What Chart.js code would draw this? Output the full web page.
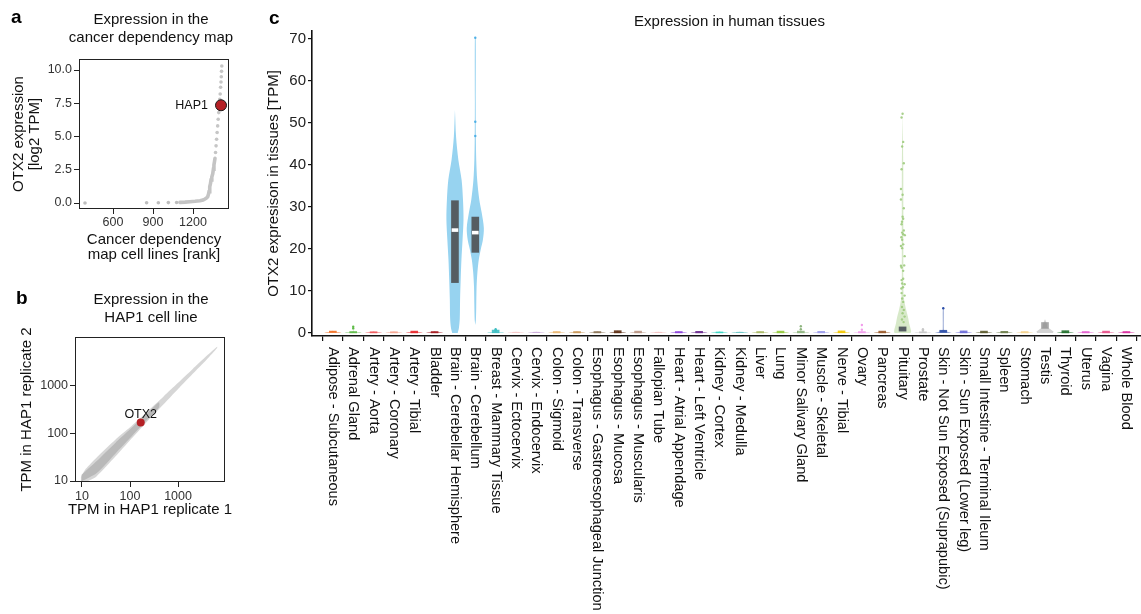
<!DOCTYPE html>
<html>
<head>
<meta charset="utf-8">
<title>OTX2 expression</title>
<script src="https://cdn.jsdelivr.net/npm/chart.js@4.4.1/dist/chart.umd.min.js"></script>
<style>
  html, body { margin: 0; padding: 0; background: #fff; }
  body { position: relative; width: 1141px; height: 614px; overflow: hidden;
         font-family: "Liberation Sans", Arial, Helvetica, sans-serif; }
  canvas { position: absolute; }
  .tag { position: absolute; font-weight: bold; font-size: 19px; line-height: 19px; color: #000; z-index: 2; }
</style>
</head>
<body>
<div class="tag" style="left:11px;top:7px">a</div>
<div class="tag" style="left:16px;top:288px">b</div>
<div class="tag" style="left:269px;top:8px">c</div>
<canvas id="panelA" width="302" height="275" style="left:0;top:0"></canvas>
<canvas id="panelB" width="302" height="250" style="left:0;top:280px"></canvas>
<canvas id="panelC" width="940" height="614" style="left:255px;top:0"></canvas>
<script>
// ---------- panel a: OTX2 in cancer cell lines, ordered by rank ----------
const rankTicks = [600, 900, 1200];
const log2Ticks = [0, 2.5, 5, 7.5, 10];
const isolatedRank = [390, 852, 940, 1015, 1077];
const isolatedLog2 = [0.0, 0.02, 0.02, 0.03, 0.04];
const bulkRank = [1102, 1140, 1177, 1215, 1252, 1275, 1290, 1302, 1310, 1316, 1320, 1324, 1327, 1331, 1335, 1341, 1348, 1353, 1357, 1361, 1365];
const bulkLog2 = [0.05, 0.07, 0.1, 0.13, 0.17, 0.22, 0.3, 0.38, 0.47, 0.65, 0.85, 1.05, 1.22, 1.45, 1.73, 1.95, 2.2, 2.55, 2.86, 3.1, 3.36];
const tailRank = [1369, 1373, 1377, 1381, 1385, 1389, 1393, 1397, 1401, 1404, 1407, 1410, 1412, 1414, 1416];
const tailLog2 = [3.8, 4.3, 4.8, 5.3, 5.8, 6.3, 6.8, 7.3, 7.8, 8.2, 8.7, 9.1, 9.5, 9.9, 10.3];
const hap1Rank = 1410;
const hap1Log2 = 7.35;

// ---------- panel b: HAP1 replicate agreement ----------
const tpmTicksB = [10, 100, 1000];
const cloudRep1 = [9.5, 12, 20, 50, 100, 200, 500, 1000, 2000, 4000, 6500];
const cloudLowRep2 = [9.6, 9.6, 12.5, 33, 72, 155, 410, 860, 1780, 3650, 6300];
const cloudHighRep2 = [12, 18, 31, 75, 135, 255, 600, 1160, 2250, 4350, 6700];
const coreRep1 = [9.8, 20, 50, 100, 200, 400];
const coreLowRep2 = [9.8, 14.5, 38, 80, 170, 350];
const coreHighRep2 = [13.5, 26, 64, 122, 235, 455];
const otx2Rep1 = 167;
const otx2Rep2 = 170;

// ---------- panel c: OTX2 across human tissues ----------
const tissues = [
  'Adipose - Subcutaneous', 'Adrenal Gland', 'Artery - Aorta', 'Artery - Coronary', 'Artery - Tibial',
  'Bladder', 'Brain - Cerebellar Hemisphere', 'Brain - Cerebellum', 'Breast - Mammary Tissue',
  'Cervix - Ectocervix', 'Cervix - Endocervix', 'Colon - Sigmoid', 'Colon - Transverse',
  'Esophagus - Gastroesophageal Junction', 'Esophagus - Mucosa', 'Esophagus - Muscularis',
  'Fallopian Tube', 'Heart - Atrial Appendage', 'Heart - Left Ventricle', 'Kidney - Cortex',
  'Kidney - Medulla', 'Liver', 'Lung', 'Minor Salivary Gland', 'Muscle - Skeletal', 'Nerve - Tibial',
  'Ovary', 'Pancreas', 'Pituitary', 'Prostate', 'Skin - Not Sun Exposed (Suprapubic)',
  'Skin - Sun Exposed (Lower leg)', 'Small Intestine - Terminal Ileum', 'Spleen', 'Stomach', 'Testis',
  'Thyroid', 'Uterus', 'Vagina', 'Whole Blood'
];
const tissueColors = [
  '#F26B1D', '#5DBB46', '#F0565A', '#F7A48F', '#E8262A', '#A3161C', '#97D3F0', '#97D3F0',
  '#3DBEC2', '#F7C6C6', '#C9A6D8', '#EBB670', '#C99655', '#8B7355', '#5A2A10', '#B99583',
  '#F5C2C2', '#8B3FD9', '#6A2A8E', '#36D6C3', '#5BC0C0', '#A9B864', '#94C93D', '#8FB57F',
  '#9C9CEB', '#F2C600', '#F29CEB', '#9A5A2A', '#9FCB7E', '#C8C8C8', '#2B4EA8', '#6C6CD8',
  '#5D5B2E', '#6F7F4D', '#F5D38D', '#A8A8A8', '#1F6E2A', '#E45FD0', '#E8508A', '#D92A9E'
];
const tpmTicks = [0, 10, 20, 30, 40, 50, 60, 70];

// highest value reached by each low-expression tissue (null: outline given below)
const lowTop = [0.6, 1.5, 0.4, 0.4, 0.5, 0.4, null, null, 0.9, 0.35, 0.35, 0.4, 0.4, 0.4, 0.6, 0.5,
  0.35, 0.4, 0.4, 0.4, 0.35, 0.4, 0.5, 1.6, 0.5, 0.6, 1.9, 0.5, null, 0.9, null, 0.6, 0.5, 0.4,
  0.4, null, 0.6, 0.4, 0.5, 0.4];
// quartiles of each tissue
const q1 = [0, 0.03, 0.03, 0.03, 0.03, 0.03, 12, 19.2, 0.05, 0, 0, 0.03, 0.03, 0.03, 0.03, 0.03,
  0, 0.03, 0.03, 0.03, 0, 0.03, 0.03, 0.03, 0.03, 0.05, 0.03, 0.03, 0.45, 0.03, 0, 0.03, 0.03,
  0.03, 0.03, 1.1, 0.03, 0.03, 0.03, 0.03];
const q3 = [0.45, 0.35, 0.3, 0.3, 0.45, 0.35, 31.5, 27.6, 0.7, 0.08, 0.1, 0.35, 0.35, 0.35, 0.55,
  0.45, 0.08, 0.35, 0.4, 0.25, 0.12, 0.35, 0.45, 0.45, 0.4, 0.5, 0.35, 0.45, 1.45, 0.3, 0.65,
  0.5, 0.45, 0.4, 0.35, 2.5, 0.55, 0.35, 0.45, 0.35];
const medianTissue = [6, 7];
const medianTPM = [24.5, 23.9];

// density outlines (relative width, 1 = widest) for the tissues with real signal
const hemisphereLevels = [0, 1, 3.3, 8, 12.7, 17.5, 22.2, 27, 31.7, 36.4, 41.2, 46.7, 53.1];
const hemisphereDensity = [0.32, 0.45, 0.56, 0.6, 0.67, 0.76, 0.89, 1.0, 0.94, 0.78, 0.4, 0.13, 0];
const cerebellumLevels = [1.9, 3.1, 6.3, 11, 14.5, 17.5, 20, 22.2, 25, 28.6, 31.7, 36.4, 41.2, 46, 55, 70.3];
const cerebellumDensity = [0, 0.07, 0.11, 0.15, 0.25, 0.41, 0.65, 0.89, 1.0, 0.75, 0.47, 0.22, 0.11, 0.07, 0.05, 0.05];
const pituitaryLevels = [0, 0.4, 2.3, 3.9, 5.5, 7.1, 8.7, 12, 20, 30, 40, 52.3];
const pituitaryDensity = [0.95, 1.0, 0.77, 0.62, 0.42, 0.25, 0.13, 0.09, 0.09, 0.09, 0.08, 0];
const skinLevels = [0, 0.25, 0.6, 1.0, 5.9];
const skinDensity = [1, 0.6, 0.12, 0.06, 0.05];
const testisLevels = [0, 0.3, 0.8, 1.3, 2.0, 2.6, 3.3];
const testisDensity = [0.9, 1.0, 0.7, 0.3, 0.22, 0.15, 0];
const lowLevels = [0, 0.18, 0.3];
const lowDensity = [1, 0.8, 0.08, 0];

// individual samples drawn as dots
const pituitaryTPM = [52.2, 51.3, 45.5, 44.4, 40.4, 39.0, 34.3, 32.9, 31.8, 29.7, 27.7, 27.2, 26.5,
  25.9, 24.4, 23.9, 23.5, 23.3, 22.8, 22.2, 21.1, 20.7, 20.2, 18.3, 16.1, 16.0, 15.6, 14.8, 12.9,
  12.6, 11.8, 11.6, 10.9, 10.6, 9.5, 8.9, 8.2, 7.4, 6.2, 5.5, 4.7, 3.9, 3.2, 2.6];
const pituitaryJitter = [0, -0.05, 0.03, -0.02, 0.06, -0.05, -0.08, 0, -0.08, 0.06, 0, 0.03, -0.03,
  -0.05, 0.06, -0.02, 0.03, 0.11, -0.06, -0.02, 0.03, -0.08, -0.02, 0.1, 0.08, -0.08, -0.05, 0.03,
  0.03, -0.05, -0.02, 0.1, 0.02, -0.06, -0.05, 0.1, -0.02, 0.03, -0.03, 0.06, 0, 0.1, -0.03, 0.05];
const outlierTissue = [1, 1, 7, 7, 7, 8, 8, 23, 23, 26, 26, 29, 29, 30];
const outlierTPM = [1.5, 1.1, 70.3, 50.3, 46.9, 0.9, 0.6, 1.6, 0.9, 1.9, 0.8, 0.9, 0.6, 5.9];

// ---------- shared look ----------
const FONT = '"Liberation Sans", Arial, Helvetica, sans-serif';
Chart.defaults.font.family = FONT;
Chart.defaults.color = '#222';
Chart.defaults.animation = false;
Chart.defaults.responsive = false;
Chart.defaults.events = [];
Chart.defaults.plugins.legend.display = false;
Chart.defaults.plugins.tooltip.enabled = false;

const fade = (hex, a) => {
  const n = parseInt(hex.slice(1), 16);
  return `rgba(${n >> 16},${(n >> 8) & 255},${n & 255},${a})`;
};
const pairs = (xs, ys) => xs.map((x, k) => ({x, y: ys[k]}));
const fixedTicks = values => scale => { scale.ticks = values.map(v => ({value: v})); };

// empty margin on the right so the panel title stays centred over the plot
const rightMargin = width => ({
  type: 'linear', position: 'right', display: true,
  grid: {display: false}, border: {display: false}, ticks: {display: false},
  afterFit: s => { s.width = width; }
});

// box around the plotting area
const frame = {
  id: 'frame',
  defaults: {display: false, color: '#222', width: 1},
  afterDatasetsDraw(chart, args, opts) {
    if (!opts.display) return;
    const {ctx, chartArea: a} = chart;
    ctx.save();
    ctx.strokeStyle = opts.color;
    ctx.lineWidth = opts.width;
    ctx.strokeRect(Math.round(a.left) + 0.5, Math.round(a.top) + 0.5,
                   Math.round(a.width) - 1, Math.round(a.height) - 1);
    ctx.restore();
  }
};

// text label beside a highlighted point
const pointLabel = {
  id: 'pointLabel',
  defaults: {text: ''},
  afterDatasetsDraw(chart, args, opts) {
    if (!opts.text) return;
    const el = chart.getDatasetMeta(opts.datasetIndex).data[0];
    const {ctx} = chart;
    ctx.save();
    ctx.font = opts.font;
    ctx.fillStyle = opts.color;
    ctx.textAlign = opts.align;
    ctx.textBaseline = 'middle';
    ctx.fillText(opts.text, el.x + opts.dx, el.y + opts.dy);
    ctx.restore();
  }
};

// axis captions centred on the plotting area (wider than the plot itself)
const axisCaptions = {
  id: 'axisCaptions',
  defaults: {items: []},
  afterDraw(chart, args, opts) {
    const {ctx, chartArea: a} = chart;
    ctx.save();
    ctx.font = opts.font;
    ctx.fillStyle = opts.color;
    ctx.textAlign = 'center';
    ctx.textBaseline = 'middle';
    for (const item of opts.items) {
      ctx.save();
      if (item.axis === 'x') {
        ctx.translate((a.left + a.right) / 2, item.pos);
      } else {
        ctx.translate(item.pos, (a.top + a.bottom) / 2);
        ctx.rotate(-Math.PI / 2);
      }
      ctx.fillText(item.text, 0, 0);
      ctx.restore();
    }
    ctx.restore();
  }
};

// category names under the tissue axis, reading downwards
const categoryLabels = {
  id: 'categoryLabels',
  afterDraw(chart, args, opts) {
    const xs = chart.scales.x;
    const {ctx} = chart;
    ctx.save();
    ctx.font = opts.font;
    ctx.fillStyle = opts.color;
    ctx.textAlign = 'left';
    ctx.textBaseline = 'middle';
    opts.labels.forEach((name, i) => {
      ctx.save();
      ctx.translate(xs.getPixelForValue(i), xs.top + opts.offset);
      ctx.rotate(Math.PI / 2);
      ctx.fillText(name, 0, 0);
      ctx.restore();
    });
    ctx.restore();
  }
};

const tickFont = {size: 12.5};
const axisGrid = {drawOnChartArea: false, tickLength: 5, color: '#222', lineWidth: 1};

// ---------- panel a ----------
new Chart(document.getElementById('panelA'), {
  type: 'scatter',
  data: {
    datasets: [
      {type: 'line', data: pairs(bulkRank, bulkLog2), borderColor: '#C4C4C4', borderWidth: 3.6,
       borderCapStyle: 'round', pointRadius: 0, fill: false, tension: 0, order: 4},
      {data: pairs(isolatedRank, isolatedLog2), pointRadius: 1.8, backgroundColor: '#BDBDBD',
       borderWidth: 0, order: 3},
      {data: pairs(tailRank, tailLog2), pointRadius: 1.8, backgroundColor: '#C6C6C6',
       borderWidth: 0, order: 2},
      {data: [{x: hap1Rank, y: hap1Log2}], pointRadius: 5.5, backgroundColor: '#B52025',
       borderColor: '#1A1A1A', borderWidth: 1, order: 0}
    ]
  },
  options: {
    layout: {padding: 0},
    plugins: {
      title: {display: true, text: ['Expression in the', 'cancer dependency map'],
              font: {size: 15, weight: 'normal', lineHeight: 1.2}, color: '#111',
              padding: {top: 11, bottom: 12}},
      frame: {display: true, color: '#222', width: 1},
      pointLabel: {datasetIndex: 3, text: 'HAP1', dx: -13, dy: 0, align: 'right',
                   font: '12.5px ' + FONT, color: '#111'}
    },
    scales: {
      x: {type: 'linear', min: 345, max: 1470, afterBuildTicks: fixedTicks(rankTicks),
          afterFit: s => { s.height = 66; }, grid: axisGrid, border: {display: false},
          ticks: {font: tickFont, color: '#333', padding: 1, maxRotation: 0, callback: v => String(v)},
          title: {display: true, text: ['Cancer dependency', 'map cell lines [rank]'],
                  font: {size: 15, lineHeight: 1.05}, color: '#111', padding: {top: 0, bottom: 12}}},
      y: {type: 'linear', min: -0.45, max: 10.83, afterBuildTicks: fixedTicks(log2Ticks),
          afterFit: s => { s.width = 79; }, grid: axisGrid, border: {display: false},
          ticks: {font: tickFont, color: '#333', padding: 2, callback: v => v.toFixed(1)},
          title: {display: true, text: ['OTX2 expression', '[log2 TPM]'],
                  font: {size: 15, lineHeight: 1.1}, color: '#111', padding: {top: 10.5, bottom: 0}}},
      margin: rightMargin(73)
    }
  },
  plugins: [frame, pointLabel]
});

// ---------- panel b ----------
const bandOutline = (xs, lo, hi) => pairs(xs, lo).concat(pairs(xs, hi).reverse());
new Chart(document.getElementById('panelB'), {
  type: 'scatter',
  data: {
    datasets: [
      {type: 'line', data: bandOutline(cloudRep1, cloudLowRep2, cloudHighRep2), fill: 'shape',
       backgroundColor: 'rgba(200,200,200,0.75)', borderWidth: 0, pointRadius: 0, tension: 0.2, order: 3},
      {type: 'line', data: bandOutline(coreRep1, coreLowRep2, coreHighRep2), fill: 'shape',
       backgroundColor: 'rgba(172,172,172,0.7)', borderWidth: 0, pointRadius: 0, tension: 0.2, order: 2},
      {data: [{x: otx2Rep1, y: otx2Rep2}], pointRadius: 4, backgroundColor: '#B52025',
       borderWidth: 0, order: 0}
    ]
  },
  options: {
    layout: {padding: 0},
    plugins: {
      title: {display: true, text: ['Expression in the', 'HAP1 cell line'],
              font: {size: 15, weight: 'normal', lineHeight: 1.2}, color: '#111',
              padding: {top: 11, bottom: 10}},
      frame: {display: true, color: '#222', width: 1},
      pointLabel: {datasetIndex: 2, text: 'OTX2', dx: 0, dy: -8, align: 'center',
                   font: '12.5px ' + FONT, color: '#111'},
      axisCaptions: {font: '15px ' + FONT, color: '#111', items: [
        {axis: 'x', pos: 230, text: 'TPM in HAP1 replicate 1'},
        {axis: 'y', pos: 27, text: 'TPM in HAP1 replicate 2'}
      ]}
    },
    scales: {
      x: {type: 'logarithmic', min: 7.15, max: 9500, afterBuildTicks: fixedTicks(tpmTicksB),
          afterFit: s => { s.height = 48; }, grid: axisGrid, border: {display: false},
          ticks: {font: tickFont, color: '#333', padding: 2, maxRotation: 0, callback: v => String(v)}},
      y: {type: 'logarithmic', min: 9.53, max: 10700, afterBuildTicks: fixedTicks(tpmTicksB),
          afterFit: s => { s.width = 75; }, grid: axisGrid, border: {display: false},
          ticks: {font: tickFont, color: '#333', padding: 2, callback: v => String(v)}},
      margin: rightMargin(77)
    }
  },
  plugins: [frame, pointLabel, axisCaptions]
});

// ---------- panel c ----------
const HALF_WIDTH = 0.42;   // half of the widest violin, in category units
const violinOutline = (i, levels, density) => {
  const left = levels.map((y, k) => ({x: i - HALF_WIDTH * density[k], y}));
  const right = levels.map((y, k) => ({x: i + HALF_WIDTH * density[k], y})).reverse();
  return left.concat(right);
};
const namedShapes = {
  6: [hemisphereLevels, hemisphereDensity],
  7: [cerebellumLevels, cerebellumDensity],
  28: [pituitaryLevels, pituitaryDensity],
  30: [skinLevels, skinDensity],
  35: [testisLevels, testisDensity]
};
const darkBox = '#555D62';
const violinSets = tissues.map((name, i) => {
  const shape = namedShapes[i] || [lowLevels.concat([lowTop[i]]), lowDensity];
  const solid = (i === 6 || i === 7);
  return {
    type: 'line', label: name, data: violinOutline(i, shape[0], shape[1]), fill: 'shape',
    backgroundColor: solid ? tissueColors[i] : fade(tissueColors[i], i === 28 ? 0.42 : 0.5),
    borderWidth: 0, pointRadius: 0, tension: 0.3, order: 4
  };
});
const boxColor = i => (i === 6 || i === 7 || i === 28) ? darkBox
  : (i === 35 ? 'rgba(140,140,140,0.75)' : fade(tissueColors[i], 0.9));
const dotColor = i => (i === 6 || i === 7) ? '#4FB0E6' : tissueColors[i];

const sampleDots = pairs(pituitaryJitter.map(j => 28 + j), pituitaryTPM)
  .concat(pairs(outlierTissue, outlierTPM));
const sampleColors = pituitaryTPM.map(() => fade(dotColor(28), 0.9))
  .concat(outlierTissue.map(i => dotColor(i)));

new Chart(document.getElementById('panelC'), {
  type: 'scatter',
  data: {
    datasets: violinSets.concat([
      {type: 'bar', data: tissues.map((t, i) => ({x: i, y: [q1[i], q3[i]]})), grouped: false,
       barThickness: 7, backgroundColor: tissues.map((t, i) => boxColor(i)), borderWidth: 0, order: 3},
      {type: 'bar', data: medianTissue.map((i, k) => ({x: i, y: [medianTPM[k] - 0.35, medianTPM[k] + 0.35]})),
       grouped: false, barThickness: 6, backgroundColor: '#FFFFFF', borderWidth: 0, order: 2},
      {data: sampleDots, pointRadius: 1.2, backgroundColor: sampleColors, borderWidth: 0, order: 1}
    ])
  },
  options: {
    layout: {padding: {top: 0, right: 48, bottom: 0, left: 0}},
    plugins: {
      title: {display: true, fullSize: false, text: 'Expression in human tissues',
              font: {size: 15, weight: 'normal', lineHeight: 1.2}, color: '#111',
              padding: {top: 13, bottom: 0}},
      categoryLabels: {labels: tissues, font: '14.6px ' + FONT, color: '#111', offset: 11}
    },
    scales: {
      x: {type: 'linear', min: -0.513, max: 39.5, afterBuildTicks: fixedTicks(tissues.map((t, i) => i)),
          afterFit: s => { s.height = 278; },
          grid: {drawOnChartArea: false, tickLength: 5, color: '#111', lineWidth: 1.2},
          border: {display: true, color: '#111', width: 1.6},
          ticks: {display: false}},
      y: {type: 'linear', min: -0.714, max: 71.9, afterBuildTicks: fixedTicks(tpmTicks),
          afterFit: s => { s.width = 57; },
          grid: {drawOnChartArea: false, tickLength: 4, color: '#111', lineWidth: 1.2},
          border: {display: true, color: '#111', width: 1.6},
          ticks: {font: {size: 15}, color: '#222', padding: 2},
          title: {display: true, text: 'OTX2 expresison in tissues [TPM]', font: {size: 15},
                  color: '#111', padding: {top: 10, bottom: 0}}}
    }
  },
  plugins: [categoryLabels]
});
</script>
</body>
</html>
